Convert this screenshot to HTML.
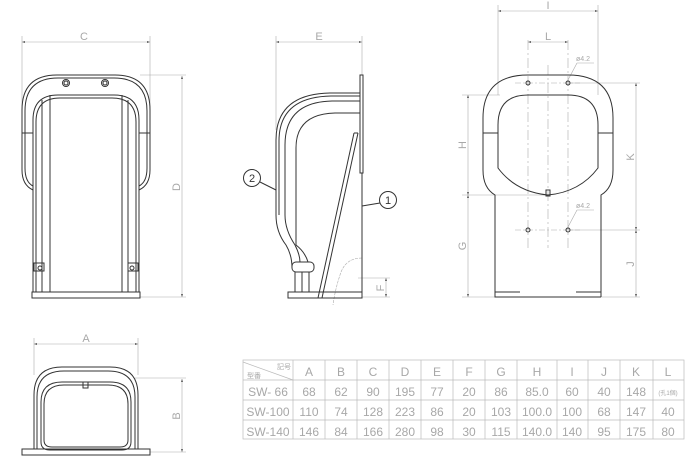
<!DOCTYPE html>
<html><head><meta charset="utf-8"><style>
html,body{margin:0;padding:0;background:#fff;}
svg{display:block}
text{font-family:"Liberation Sans","Noto Sans CJK JP",sans-serif;fill:#a8a8a8;}
</style></head><body>
<svg width="700" height="469" viewBox="0 0 700 469" xmlns="http://www.w3.org/2000/svg">
<defs>
<marker id="a" viewBox="0 0 6 6" refX="6" refY="3" markerWidth="5" markerHeight="5" orient="auto-start-reverse"><path d="M0,1 L6,3 L0,5 z" fill="#555"/></marker>
</defs>
<g fill="none" stroke="#333" stroke-width="1">
<!-- FRONT VIEW -->
<g stroke="#aaa" stroke-width="0.6">
<line x1="22" y1="42" x2="150" y2="42" marker-start="url(#a)" marker-end="url(#a)"/><line x1="22" y1="36" x2="22" y2="112"/><line x1="150" y1="36" x2="150" y2="112"/>
<line x1="182" y1="76" x2="182" y2="297" marker-start="url(#a)" marker-end="url(#a)"/><line x1="140" y1="75" x2="186" y2="75"/><line x1="140" y1="297" x2="186" y2="297"/>
</g>
<path d="M33,190 Q22,185 22,170 V110 Q22,75 57,75 H115 Q150,75 150,110 V170 Q150,185 139,190"/>
<path d="M33,186 Q25,182 25,168 V111 Q25,78 58,78 H114 Q147,78 147,111 V168 Q147,182 139,186"/>
<path d="M33,292 V120 Q33,95 58,95 H114 Q139,95 139,120 V292"/>
<path d="M36,292 V122 Q36,98 60,98 H112 Q136,98 136,122 V292"/>
<line x1="50" y1="95" x2="50" y2="292"/><line x1="122" y1="95" x2="122" y2="292"/><line x1="128" y1="100" x2="128" y2="292"/><line x1="42" y1="100" x2="42" y2="292"/>
<line x1="22" y1="133" x2="33" y2="133"/><line x1="139" y1="133" x2="150" y2="133"/>
<rect x="32" y="292" width="108" height="6"/>
<circle cx="66" cy="83" r="3.5"/><circle cx="66" cy="83" r="2"/><circle cx="105" cy="83" r="3.5"/><circle cx="105" cy="83" r="2"/>
<rect x="34" y="263" width="10" height="8"/><circle cx="40" cy="268" r="2"/>
<rect x="128" y="263" width="10" height="8"/><circle cx="132" cy="268" r="2"/>
<!-- SIDE VIEW -->
<g stroke="#aaa" stroke-width="0.6">
<line x1="276" y1="42" x2="362" y2="42" marker-start="url(#a)" marker-end="url(#a)"/><line x1="276" y1="36" x2="276" y2="130"/><line x1="362" y1="36" x2="362" y2="75"/>
<line x1="386" y1="278" x2="386" y2="297" marker-start="url(#a)" marker-end="url(#a)"/><line x1="358" y1="278" x2="390" y2="278"/><line x1="362" y1="297" x2="390" y2="297"/>
<path d="M362,258 Q345,258 340,275 Q335,290 333,305" stroke-dasharray="3,1"/>
</g>
<rect x="360" y="75" width="3" height="98"/>
<line x1="362" y1="173" x2="362" y2="298"/>
<path d="M276,215 V140 Q276,94 330,93 H360"/>
<path d="M279,215 V141 Q279,97 331,96 H360"/>
<path d="M285,215 V145 Q285,102 332,101 H360"/>
<path d="M296,245 V148 Q296,114 335,113 H360"/>
<path d="M276,215 Q276,232 286,245 Q292,255 292,268"/>
<path d="M285,215 Q285,230 295,245 Q300,255 300,262"/>
<path d="M296,245 Q305,252 308,262"/>
<line x1="354" y1="133" x2="318" y2="298"/><line x1="358" y1="133" x2="322" y2="298"/><line x1="354" y1="133" x2="358" y2="133"/>
<rect x="292" y="262" width="22" height="10" rx="4"/>
<rect x="288" y="292" width="74" height="6"/>
<line x1="295" y1="272" x2="295" y2="292"/><line x1="302" y1="272" x2="302" y2="292"/><line x1="309" y1="272" x2="309" y2="292"/>
<circle cx="252" cy="178" r="8.5"/><line x1="260" y1="182" x2="276" y2="190"/>
<circle cx="388" cy="200" r="8.5"/><line x1="380" y1="203" x2="362" y2="206"/>
<!-- RIGHT VIEW -->
<g stroke="#aaa" stroke-width="0.6">
<line x1="498" y1="11" x2="598" y2="11" marker-start="url(#a)" marker-end="url(#a)"/><line x1="498" y1="5" x2="498" y2="95"/><line x1="598" y1="5" x2="598" y2="95"/>
<line x1="528" y1="42" x2="568" y2="42" marker-start="url(#a)" marker-end="url(#a)"/>
<line x1="468" y1="95" x2="468" y2="195" marker-start="url(#a)" marker-end="url(#a)"/><line x1="468" y1="195" x2="468" y2="297" marker-start="url(#a)" marker-end="url(#a)"/><line x1="462" y1="95" x2="500" y2="95"/><line x1="462" y1="195" x2="548" y2="195"/><line x1="462" y1="297" x2="495" y2="297"/>
<line x1="636" y1="83" x2="636" y2="230" marker-start="url(#a)" marker-end="url(#a)"/><line x1="636" y1="230" x2="636" y2="297" marker-start="url(#a)" marker-end="url(#a)"/><line x1="568" y1="83" x2="640" y2="83"/><line x1="568" y1="230" x2="640" y2="230"/><line x1="601" y1="297" x2="640" y2="297"/>
<line x1="528" y1="40" x2="528" y2="248" stroke-dasharray="10,3,2,3"/><line x1="568" y1="40" x2="568" y2="248" stroke-dasharray="10,3,2,3"/>
<line x1="548" y1="65" x2="548" y2="248" stroke-dasharray="10,3,2,3"/>
<line x1="515" y1="83" x2="580" y2="83" stroke-dasharray="6,2,2,2"/><line x1="515" y1="230" x2="580" y2="230" stroke-dasharray="6,2,2,2"/>
<line x1="568" y1="80" x2="577" y2="63"/><line x1="577" y1="63" x2="594" y2="63"/>
<line x1="568" y1="227" x2="577" y2="210"/><line x1="577" y1="210" x2="594" y2="210"/>
</g>
<path d="M495,297 V195 Q483,188 483,170 V118 Q483,75 528,75 H568 Q613,75 613,118 V170 Q613,188 601,195 V297"/>
<path d="M498,168 V125 Q498,95 528,95 H568 Q598,95 598,125 V168 Q580,192 548,195 Q516,192 498,168 Z"/>
<line x1="483" y1="133" x2="498" y2="133"/><line x1="598" y1="133" x2="613" y2="133"/>
<rect x="546" y="190" width="4" height="6"/>
<path d="M495,292 H520 M576,292 H601 M495,292 V297 H601"/>
<circle cx="528" cy="83" r="2"/><circle cx="568" cy="83" r="2"/><circle cx="528" cy="230" r="2"/><circle cx="568" cy="230" r="2"/>
<!-- BOTTOM VIEW -->
<g stroke="#aaa" stroke-width="0.6">
<line x1="34" y1="344" x2="138" y2="344" marker-start="url(#a)" marker-end="url(#a)"/><line x1="34" y1="338" x2="34" y2="375"/><line x1="138" y1="338" x2="138" y2="375"/>
<line x1="182" y1="379" x2="182" y2="452" marker-start="url(#a)" marker-end="url(#a)"/><line x1="135" y1="378" x2="186" y2="378"/><line x1="150" y1="452" x2="186" y2="452"/>
</g>
<path d="M34,449 V395 Q34,367 62,367 H110 Q138,367 138,395 V449"/>
<path d="M37,449 V397 Q37,371 64,371 H108 Q135,371 135,397 V449"/>
<path d="M41,442 V402 Q41,382 62,382 H110 Q131,382 131,402 V442 Q131,450 122,450 H50 Q41,450 41,442 Z"/>
<path d="M44,440 V404 Q44,385 64,385 H108 Q128,385 128,404 V440 Q128,447 120,447 H52 Q44,447 44,440 Z"/>
<rect x="83" y="382" width="5" height="6"/>
<rect x="22" y="449" width="128" height="6"/>
</g>
<!-- dim text -->
<g font-size="11">
<text x="84" y="40" text-anchor="middle">C</text>
<text x="319" y="40" text-anchor="middle">E</text>
<text x="548" y="9" text-anchor="middle">I</text>
<text x="548" y="40" text-anchor="middle">L</text>
<text x="86" y="342" text-anchor="middle">A</text>
<text transform="translate(180,187) rotate(-90)" text-anchor="middle">D</text>
<text transform="translate(180,416) rotate(-90)" text-anchor="middle">B</text>
<text transform="translate(466,145) rotate(-90)" text-anchor="middle">H</text>
<text transform="translate(466,246) rotate(-90)" text-anchor="middle">G</text>
<text transform="translate(634,157) rotate(-90)" text-anchor="middle">K</text>
<text transform="translate(634,264) rotate(-90)" text-anchor="middle">J</text>
<text transform="translate(384,288) rotate(-90)" text-anchor="middle">F</text>
</g>
<text x="576" y="61" font-size="7">ø4.2</text>
<text x="576" y="208" font-size="7">ø4.2</text>
<text x="252" y="182" font-size="11" text-anchor="middle" style="fill:#333">2</text>
<text x="388" y="204" font-size="11" text-anchor="middle" style="fill:#333">1</text>
<!-- TABLE -->
<g stroke="#bbb" stroke-width="0.7" fill="none">
<rect x="243" y="360" width="441" height="79"/>
<line x1="243" y1="380" x2="684" y2="380"/><line x1="243" y1="400" x2="684" y2="400"/><line x1="243" y1="420" x2="684" y2="420"/>
<line x1="293" y1="360" x2="293" y2="439"/><line x1="325" y1="360" x2="325" y2="439"/><line x1="357" y1="360" x2="357" y2="439"/><line x1="389" y1="360" x2="389" y2="439"/><line x1="421" y1="360" x2="421" y2="439"/><line x1="453" y1="360" x2="453" y2="439"/><line x1="485" y1="360" x2="485" y2="439"/><line x1="517" y1="360" x2="517" y2="439"/><line x1="557" y1="360" x2="557" y2="439"/><line x1="588" y1="360" x2="588" y2="439"/><line x1="620" y1="360" x2="620" y2="439"/><line x1="653" y1="360" x2="653" y2="439"/>
<line x1="243" y1="362" x2="293" y2="380"/>
</g>
<g font-size="12" text-anchor="middle">
<text x="309" y="376">A</text><text x="341" y="376">B</text><text x="373" y="376">C</text><text x="405" y="376">D</text><text x="437" y="376">E</text><text x="469" y="376">F</text><text x="501" y="376">G</text><text x="537" y="376">H</text><text x="572" y="376">I</text><text x="604" y="376">J</text><text x="636" y="376">K</text><text x="668" y="376">L</text>
<text x="268" y="396">SW- 66</text><text x="309" y="396">68</text><text x="341" y="396">62</text><text x="373" y="396">90</text><text x="405" y="396">195</text><text x="437" y="396">77</text><text x="469" y="396">20</text><text x="501" y="396">86</text><text x="537" y="396">85.0</text><text x="572" y="396">60</text><text x="604" y="396">40</text><text x="636" y="396">148</text>
<text x="268" y="416">SW-100</text><text x="309" y="416">110</text><text x="341" y="416">74</text><text x="373" y="416">128</text><text x="405" y="416">223</text><text x="437" y="416">86</text><text x="469" y="416">20</text><text x="501" y="416">103</text><text x="537" y="416">100.0</text><text x="572" y="416">100</text><text x="604" y="416">68</text><text x="636" y="416">147</text><text x="668" y="416">40</text>
<text x="268" y="436">SW-140</text><text x="309" y="436">146</text><text x="341" y="436">84</text><text x="373" y="436">166</text><text x="405" y="436">280</text><text x="437" y="436">98</text><text x="469" y="436">30</text><text x="501" y="436">115</text><text x="537" y="436">140.0</text><text x="572" y="436">140</text><text x="604" y="436">95</text><text x="636" y="436">175</text><text x="668" y="436">80</text>
</g>
<text x="668" y="395" font-size="6" text-anchor="middle">(孔1個)</text>
<text x="284" y="369" font-size="7" text-anchor="middle">記号</text>
<text x="254" y="378" font-size="7" text-anchor="middle">型番</text>
</svg>
</body></html>
